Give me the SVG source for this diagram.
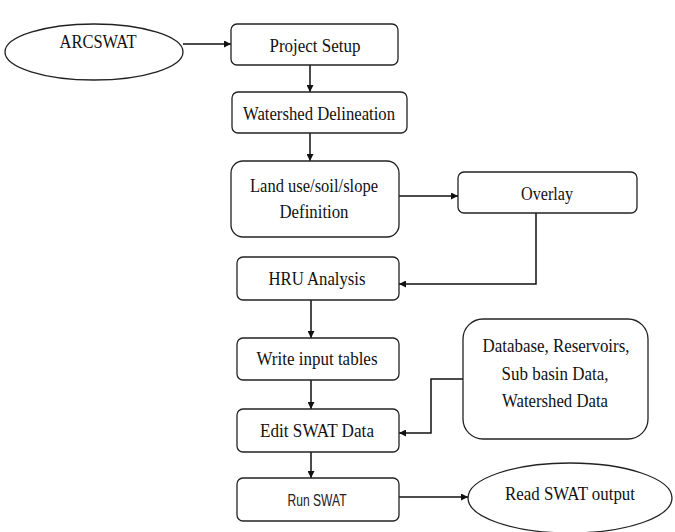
<svg xmlns="http://www.w3.org/2000/svg" width="675" height="532" viewBox="0 0 675 532">
<style>
.n{fill:#fff;stroke:#222;stroke-width:1.3}
.t{font-family:"Liberation Serif","Times New Roman",serif;font-size:18.5px;fill:#111;text-anchor:middle}
.s{font-family:"Liberation Sans",Arial,sans-serif;font-size:16px;fill:#222;text-anchor:middle}
.c{fill:none;stroke:#111;stroke-width:1.5}
</style>
<defs>
<marker id="a" viewBox="0 0 10 10" refX="10" refY="5" markerWidth="7" markerHeight="7" markerUnits="userSpaceOnUse" orient="auto">
<path d="M0,0 L10,5 L0,10 z" fill="#111"/>
</marker>
</defs>
<rect width="675" height="532" fill="#fff"/>
<g id="connectors">
<path class="c" d="M183,44 H231" marker-end="url(#a)"/>
<path class="c" d="M310,65 V92" marker-end="url(#a)"/>
<path class="c" d="M310,133 V161" marker-end="url(#a)"/>
<path class="c" d="M399,196 H458" marker-end="url(#a)"/>
<path class="c" d="M536,213 V284 H399" marker-end="url(#a)"/>
<path class="c" d="M311,300 V338" marker-end="url(#a)"/>
<path class="c" d="M311,380 V409" marker-end="url(#a)"/>
<path class="c" d="M463,379 H431 V433 H399" marker-end="url(#a)"/>
<path class="c" d="M311,452 V478" marker-end="url(#a)"/>
<path class="c" d="M399,497 H468" marker-end="url(#a)"/>
</g>
<g id="arcswat">
<ellipse class="n" cx="94" cy="52" rx="89" ry="28"/>
<text class="t" x="98" y="48" textLength="77" lengthAdjust="spacingAndGlyphs">ARCSWAT</text>
</g>
<g id="project-setup">
<rect class="n" x="231" y="24" width="167" height="41" rx="6"/>
<text class="t" x="315" y="52" textLength="91" lengthAdjust="spacingAndGlyphs">Project Setup</text>
</g>
<g id="watershed-delineation">
<rect class="n" x="232" y="92" width="175" height="41" rx="6"/>
<text class="t" x="319" y="120" textLength="152" lengthAdjust="spacingAndGlyphs">Watershed Delineation</text>
</g>
<g id="landuse">
<rect class="n" x="231" y="161" width="168" height="76" rx="12"/>
<text class="t" x="314" y="192" textLength="128" lengthAdjust="spacingAndGlyphs">Land use/soil/slope</text>
<text class="t" x="314" y="218" textLength="69" lengthAdjust="spacingAndGlyphs">Definition</text>
</g>
<g id="overlay">
<rect class="n" x="458" y="172" width="179" height="41" rx="6"/>
<text class="t" x="547" y="200" textLength="52" lengthAdjust="spacingAndGlyphs">Overlay</text>
</g>
<g id="hru-analysis">
<rect class="n" x="237" y="257" width="162" height="43" rx="6"/>
<text class="t" x="317" y="285" textLength="97" lengthAdjust="spacingAndGlyphs">HRU Analysis</text>
</g>
<g id="write-input-tables">
<rect class="n" x="237" y="338" width="162" height="42" rx="6"/>
<text class="t" x="317" y="365" textLength="121" lengthAdjust="spacingAndGlyphs">Write input tables</text>
</g>
<g id="database">
<rect class="n" x="463" y="319" width="185" height="120" rx="20"/>
<text class="t" x="556" y="352" textLength="147" lengthAdjust="spacingAndGlyphs">Database, Reservoirs,</text>
<text class="t" x="555" y="380" textLength="107" lengthAdjust="spacingAndGlyphs">Sub basin Data,</text>
<text class="t" x="555" y="407" textLength="106" lengthAdjust="spacingAndGlyphs">Watershed Data</text>
</g>
<g id="edit-swat-data">
<rect class="n" x="237" y="409" width="162" height="43" rx="6"/>
<text class="t" x="317" y="437" textLength="114" lengthAdjust="spacingAndGlyphs">Edit SWAT Data</text>
</g>
<g id="run-swat">
<rect class="n" x="237" y="478" width="162" height="43" rx="6"/>
<text class="s" x="317" y="506" textLength="59" lengthAdjust="spacingAndGlyphs">Run SWAT</text>
</g>
<g id="read-swat-output">
<ellipse class="n" cx="570" cy="498" rx="102" ry="35"/>
<text class="t" x="570" y="500" textLength="130" lengthAdjust="spacingAndGlyphs">Read SWAT output</text>
</g>
</svg>
